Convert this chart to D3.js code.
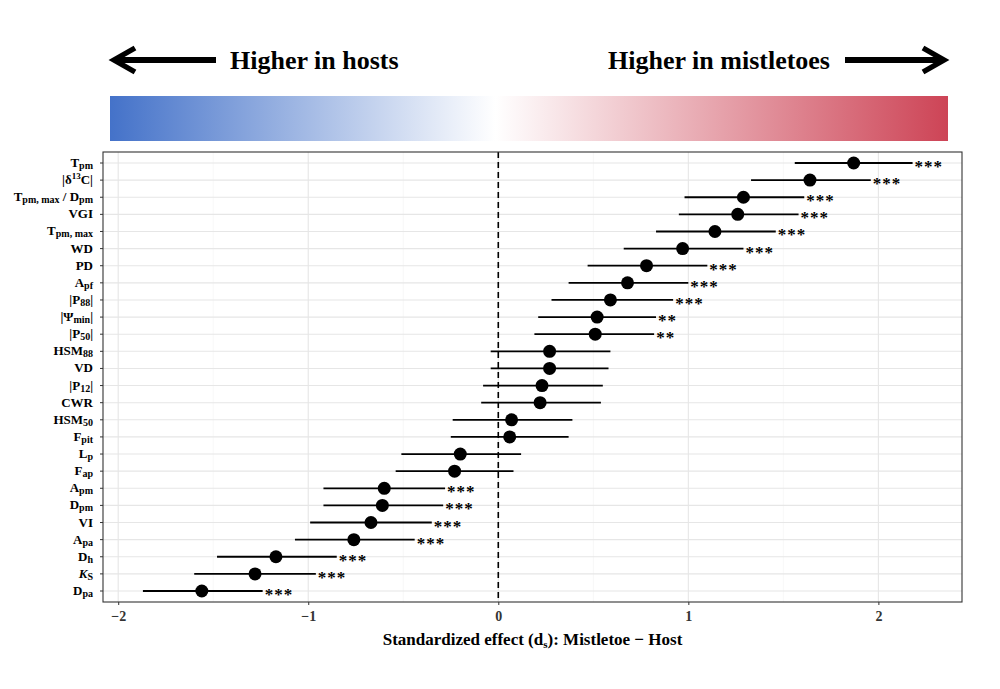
<!DOCTYPE html>
<html><head><meta charset="utf-8">
<script src="https://cdn.jsdelivr.net/npm/d3@7"></script>
<style>body{margin:0;background:#fff}text{font-family:"Liberation Serif","DejaVu Serif",serif;font-weight:bold}</style>
</head><body><svg id="c" width="1000" height="689"></svg>
<script>
// label parts: [main, sub, sup, italic]
var traits = [
  [["T"],["pm","sub"]], [["|δ"],["13","sup"],["C|"]], [["T"],["pm, max","sub"],[" / D"],["pm","sub"]],
  [["VGI"]], [["T"],["pm, max","sub"]], [["WD"]], [["PD"]], [["A"],["pf","sub"]],
  [["|P"],["88","sub"],["|"]], [["|Ψ"],["min","sub"],["|"]], [["|P"],["50","sub"],["|"]],
  [["HSM"],["88","sub"]], [["VD"]], [["|P"],["12","sub"],["|"]], [["CWR"]], [["HSM"],["50","sub"]],
  [["F"],["pit","sub"]], [["L"],["p","sub"]], [["F"],["ap","sub"]], [["A"],["pm","sub"]],
  [["D"],["pm","sub"]], [["VI"]], [["A"],["pa","sub"]], [["D"],["h","sub"]],
  [["K","it"],["S","sub"]], [["D"],["pa","sub"]]
];
var effect = [1.87,1.64,1.29,1.26,1.14,0.97,0.78,0.68,0.59,0.52,0.51,0.27,0.27,0.23,0.22,0.07,0.06,-0.20,-0.23,-0.60,-0.61,-0.67,-0.76,-1.17,-1.28,-1.56];
var lower  = [1.56,1.33,0.98,0.95,0.83,0.66,0.47,0.37,0.28,0.21,0.19,-0.04,-0.04,-0.08,-0.09,-0.24,-0.25,-0.51,-0.54,-0.92,-0.92,-0.99,-1.07,-1.48,-1.60,-1.87];
var upper  = [2.18,1.96,1.61,1.58,1.46,1.29,1.10,1.00,0.92,0.83,0.82,0.59,0.58,0.55,0.54,0.39,0.37,0.12,0.08,-0.28,-0.29,-0.35,-0.44,-0.85,-0.96,-1.24];
var signif = ["***","***","***","***","***","***","***","***","***","**","**","","","","","","","","","***","***","***","***","***","***","***"];
var xTicks = [-2,-1,0,1,2];

var svg = d3.select("#c");
var L=103,R=962,T=152,B=602;
var x = d3.scaleLinear().domain([-2.08,2.44]).range([L,R]);
var y = d3.scalePoint().domain(d3.range(traits.length)).range([163,591]);

// colour bar
var defs = svg.append("defs");
var g = defs.append("linearGradient").attr("id","gr");
g.append("stop").attr("offset","0%").attr("stop-color","#4472c9");
g.append("stop").attr("offset","46%").attr("stop-color","#ffffff");
g.append("stop").attr("offset","100%").attr("stop-color","#cd4456");
svg.append("rect").attr("x",110).attr("y",96).attr("width",838).attr("height",45).attr("fill","url(#gr)");

// arrows + headings
defs.append("marker").attr("id","ah").attr("viewBox","0 0 10 10").attr("refX",8).attr("refY",5)
  .attr("markerWidth",5).attr("markerHeight",5).attr("orient","auto-start-reverse")
  .append("path").attr("d","M1,1 L8,5 L1,9").attr("fill","none").attr("stroke","#000").attr("stroke-width",1.8);
svg.append("line").attr("x1",114).attr("x2",216).attr("y1",60).attr("y2",60).attr("stroke","#000").attr("stroke-width",6).attr("marker-start","url(#ah)");
svg.append("line").attr("x1",845).attr("x2",944).attr("y1",60).attr("y2",60).attr("stroke","#000").attr("stroke-width",6).attr("marker-end","url(#ah)");
svg.append("text").attr("x",230).attr("y",69).attr("font-size",26).text("Higher in hosts");
svg.append("text").attr("x",830).attr("y",69).attr("font-size",26).attr("text-anchor","end").text("Higher in mistletoes");

// panel grid
var minor = [-1.5,-0.5,0.5,1.5];
svg.selectAll(".mn").data(minor).enter().append("line").attr("x1",d=>x(d)).attr("x2",d=>x(d)).attr("y1",T).attr("y2",B).attr("stroke","#f2f2f2").attr("stroke-width",0.6);
svg.selectAll(".mj").data(xTicks).enter().append("line").attr("x1",d=>x(d)).attr("x2",d=>x(d)).attr("y1",T).attr("y2",B).attr("stroke","#e6e6e6").attr("stroke-width",1.1);
svg.selectAll(".hz").data(d3.range(traits.length)).enter().append("line").attr("x1",L).attr("x2",R).attr("y1",d=>y(d)).attr("y2",d=>y(d)).attr("stroke","#e6e6e6").attr("stroke-width",1.1);
svg.append("line").attr("x1",x(0)).attr("x2",x(0)).attr("y1",T).attr("y2",B).attr("stroke","#000").attr("stroke-width",1.6).attr("stroke-dasharray","6,4");

// intervals and points
var idx = d3.range(traits.length);
svg.selectAll(".ci").data(idx).enter().append("line").attr("x1",i=>x(lower[i])).attr("x2",i=>x(upper[i])).attr("y1",i=>y(i)).attr("y2",i=>y(i)).attr("stroke","#000").attr("stroke-width",1.8);
svg.selectAll(".pt").data(idx).enter().append("circle").attr("cx",i=>x(effect[i])).attr("cy",i=>y(i)).attr("r",6.5).attr("fill","#000");
svg.selectAll(".sg").data(idx).enter().append("text").attr("x",i=>x(upper[i])+2).attr("y",i=>y(i)+9).attr("font-size",17).attr("font-weight","normal").attr("letter-spacing",1).text(i=>signif[i]);

svg.append("rect").attr("x",L).attr("y",T).attr("width",R-L).attr("height",B-T).attr("fill","none").attr("stroke","#333").attr("stroke-width",1.1);

// y labels
var yl = svg.selectAll(".yl").data(idx).enter().append("text").attr("x",93).attr("y",i=>y(i)+4).attr("text-anchor","end").attr("font-size",13);
yl.each(function(i){
  var t = d3.select(this);
  traits[i].forEach(function(p){
    var s = t.append("tspan").text(p[0]);
    if (p[1]==="sub") s.attr("font-size",10).attr("baseline-shift","-2");
    if (p[1]==="sup") s.attr("font-size",9).attr("baseline-shift","5");
    if (p[1]==="it") s.attr("font-style","italic");
  });
});
svg.selectAll(".yt").data(idx).enter().append("line").attr("x1",L-3).attr("x2",L).attr("y1",i=>y(i)).attr("y2",i=>y(i)).attr("stroke","#333");

// x axis
var xa = svg.append("g").attr("transform","translate(0,"+B+")")
  .call(d3.axisBottom(x).tickValues(xTicks).tickSize(3).tickFormat(d=>d<0?"−"+(-d):d));
xa.select(".domain").remove();
xa.selectAll("text").attr("font-size",14).attr("fill","#333").attr("dy","0.9em");
xa.selectAll("line").attr("stroke","#333");
var xt = svg.append("text").attr("x",(L+R)/2).attr("y",645).attr("text-anchor","middle").attr("font-size",17);
xt.append("tspan").text("Standardized effect (d");
xt.append("tspan").text("s").attr("font-size",11).attr("baseline-shift","-3");
xt.append("tspan").text("): Mistletoe − Host");
</script></body></html>
